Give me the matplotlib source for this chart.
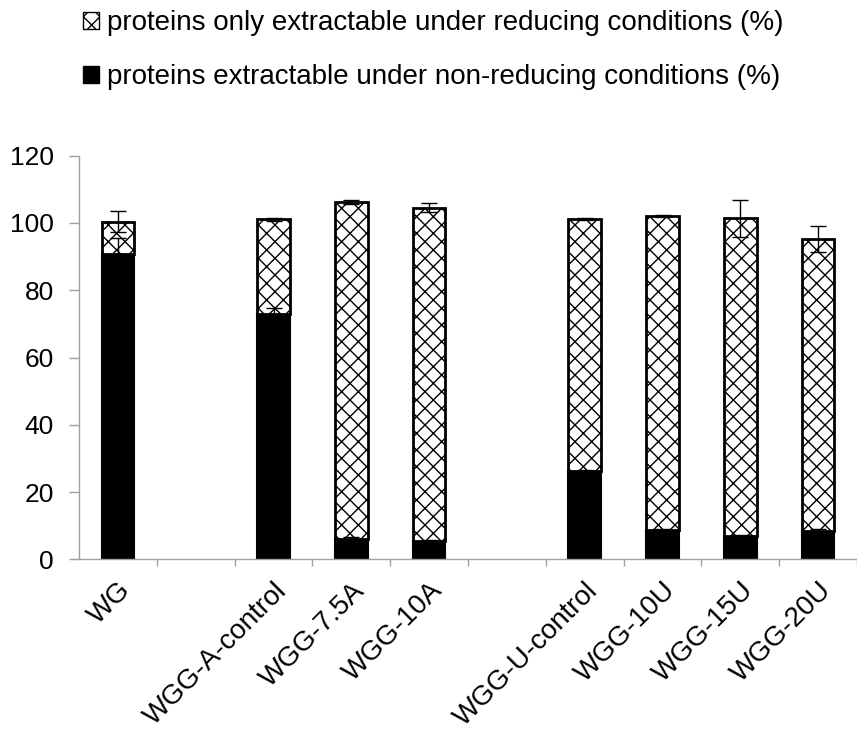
import numpy as np
import matplotlib
matplotlib.use("Agg")
import matplotlib.pyplot as plt
from matplotlib.patches import Patch

plt.rcParams['font.family'] = ['Liberation Sans', 'DejaVu Sans']
plt.rcParams['hatch.color'] = '#505050'
plt.rcParams['hatch.linewidth'] = 1.0

# slots on the x axis, '' = empty gap between groups
slots = ['WG', '', 'WGG-A-control', 'WGG-7.5A', 'WGG-10A', '',
         'WGG-U-control', 'WGG-10U', 'WGG-15U', 'WGG-20U']
samples = [s for s in slots if s]

non_reducing = [90.7, 72.8, 6.2, 5.4, 26.3, 8.7, 6.9, 8.4]
non_reducing_err = [4.8, 1.8, 0.3, 0.3, 0.3, 0.3, 0.3, 0.5]
total = [100.4, 101.1, 106.2, 104.5, 101.3, 102.2, 101.4, 95.2]
total_err = [3.2, 0.4, 0.5, 1.3, 0.3, 0.3, 5.5, 3.8]
only_reducing = [t - n for t, n in zip(total, non_reducing)]

x = [i for i, s in enumerate(slots) if s]

fig = plt.figure(figsize=(8.57, 7.36), dpi=100)
ax = fig.add_axes([0.0922, 0.240, 0.9078, 0.5485])

w = 0.42
ax.bar(x, non_reducing, w, color='black', edgecolor='black', linewidth=1.5,
       yerr=non_reducing_err, error_kw=dict(ecolor='black', elinewidth=1, capsize=6, capthick=1))
ax.bar(x, only_reducing, w, bottom=non_reducing, color='white', edgecolor='black',
       linewidth=2, hatch='xx')
ax.errorbar(x, total, yerr=total_err, fmt='none', ecolor='black', elinewidth=1,
            capsize=6, capthick=1, zorder=5)

ax.set_ylim(0, 120)
ax.set_yticks(range(0, 121, 20))
ax.set_xlim(-0.5, 9.43)
ax.set_xticks(range(len(slots)))
ax.set_xticklabels(slots, rotation=45, ha='right', rotation_mode='anchor', fontsize=20)
ax.set_xticks([i + 0.5 for i in range(len(slots))], minor=True)
ax.tick_params(axis='x', which='major', length=0, pad=13)
ax.tick_params(axis='x', which='minor', length=5, color='#a0a0a0', width=1)
ax.tick_params(axis='y', length=7, color='#a0a0a0', width=1, labelsize=19, pad=11)
for s in ['top', 'right']:
    ax.spines[s].set_visible(False)
for s in ['left', 'bottom']:
    ax.spines[s].set_color('#a0a0a0')
    ax.spines[s].set_linewidth(1)

handles = [Patch(facecolor='white', edgecolor='black', hatch='xx', linewidth=1,
                 label='proteins only extractable under reducing conditions (%)'),
           Patch(facecolor='black', edgecolor='black',
                 label='proteins extractable under non-reducing conditions (%)')]
fig.legend(handles=handles, loc='upper left', bbox_to_anchor=(0.068, 1.02), frameon=False,
           fontsize=20, handlelength=0.55, handleheight=0.55, handletextpad=0.3,
           labelspacing=1.0)

fig.savefig('out.png', dpi=100)
